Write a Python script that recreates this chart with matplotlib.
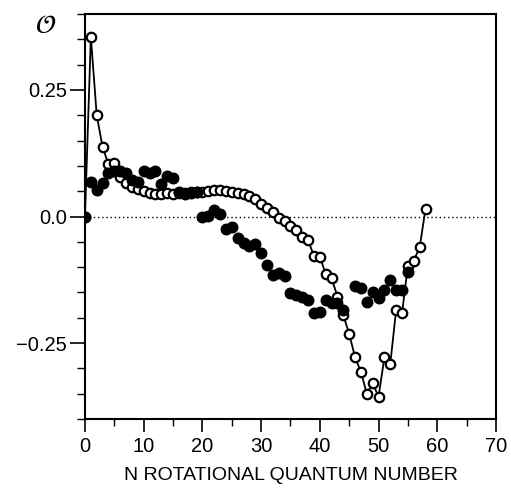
import matplotlib
matplotlib.use("Agg")
import matplotlib.pyplot as plt
from matplotlib.ticker import MultipleLocator

# Open-circle series (connected), N = 0..58
n_open = list(range(0, 59))
v_open = [0.000, 0.355, 0.200, 0.137, 0.103, 0.106, 0.078, 0.067, 0.058, 0.054,
          0.050, 0.046, 0.045, 0.044, 0.046, 0.044, 0.046, 0.046, 0.048, 0.048,
          0.048, 0.051, 0.052, 0.052, 0.050, 0.049, 0.047, 0.045, 0.040, 0.034,
          0.025, 0.016, 0.008, -0.002, -0.008, -0.018, -0.026, -0.040, -0.047, -0.078,
          -0.080, -0.113, -0.122, -0.158, -0.195, -0.232, -0.278, -0.307, -0.350, -0.329,
          -0.356, -0.278, -0.291, -0.184, -0.191, -0.097, -0.087, -0.061, 0.015]

# Filled-circle series
n_fill = list(range(0, 45)) + list(range(46, 56))
v_fill = [0.000, 0.069, 0.053, 0.067, 0.086, 0.090, 0.089, 0.086, 0.072, 0.069,
          0.089, 0.086, 0.089, 0.064, 0.080, 0.076, 0.049, 0.045, 0.047, 0.048,
          0.000, 0.002, 0.012, 0.004, -0.024, -0.020, -0.042, -0.053, -0.058, -0.055,
          -0.072, -0.095, -0.115, -0.112, -0.118, -0.151, -0.155, -0.158, -0.164, -0.191,
          -0.188, -0.164, -0.170, -0.171, -0.184,
          -0.138, -0.141, -0.168, -0.150, -0.160, -0.145, -0.126, -0.145, -0.145, -0.110]

plt.rcParams['font.family'] = ['Liberation Sans', 'DejaVu Sans']

fig = plt.figure(figsize=(5.11, 4.95), dpi=100)
ax = fig.add_axes([0.1663, 0.1535, 0.8043, 0.8182])

ax.axhline(0, color='black', lw=1.0, ls=(0, (1, 2)), zorder=1)
ax.plot(n_open, v_open, color='black', lw=1.3, marker='o', ms=6.8,
        mfc='white', mec='black', mew=1.6, zorder=2)
ax.plot(n_fill, v_fill, ls='none', marker='o', ms=7.6, mfc='black',
        mec='black', zorder=3)

ax.set_xlim(0, 70)
ax.set_ylim(-0.40, 0.40)
ax.xaxis.set_major_locator(MultipleLocator(10))
ax.xaxis.set_minor_locator(MultipleLocator(5))
ax.set_yticks([-0.25, 0.0, 0.25])
ax.set_yticklabels(['\u22120.25', '0.0', '0.25'])
ax.yaxis.set_minor_locator(MultipleLocator(0.05))

ax.tick_params(axis='x', which='major', direction='out', length=9, width=1.2,
               labelsize=14.5, pad=4, top=False)
ax.tick_params(axis='x', which='minor', direction='out', length=5, width=1.0, top=False)
ax.tick_params(axis='y', which='major', direction='out', length=11, width=1.2,
               labelsize=14.5, pad=2, right=False)
ax.tick_params(axis='y', which='minor', direction='out', length=5.5, width=1.0, right=False)

for s in ax.spines.values():
    s.set_linewidth(1.5)

ax.set_xlabel('N ROTATIONAL QUANTUM NUMBER', fontsize=14, labelpad=8)
fig.text(0.09, 0.948, r'$\mathcal{O}$', fontsize=19, ha='center', va='center')

fig.savefig('out.png', dpi=100)
